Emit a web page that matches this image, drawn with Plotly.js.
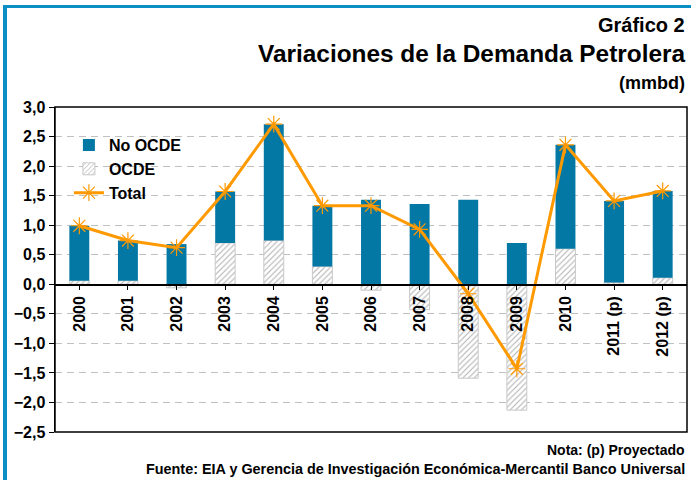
<!DOCTYPE html>
<html><head><meta charset="utf-8">
<script src="https://cdn.plot.ly/plotly-3.0.1.min.js"></script>
<style>
html,body{margin:0;padding:0;background:#fff;overflow:hidden;}
#frame{position:absolute;left:3px;top:5px;width:700px;height:490px;border-top:3px solid #0A8EC4;border-left:4px solid #0A8EC4;}
#chart{position:absolute;left:0;top:0;width:691px;height:480px;}
</style></head><body>
<div id="frame"></div>
<div id="chart"></div>
<script>
const years = ['2000','2001','2002','2003','2004','2005','2006','2007','2008','2009','2010','2011 (p)','2012 (p)'];
const noOcde = [0.93, 0.68, 0.68, 0.87, 1.97, 1.03, 1.43, 1.36, 1.43, 0.70, 1.76, 1.38, 1.47];
const ocde   = [0.06, 0.06, -0.06, 0.70, 0.74, 0.30, -0.10, -0.43, -1.59, -2.13, 0.60, 0.03, 0.11];
const total  = [0.99, 0.74, 0.62, 1.57, 2.71, 1.33, 1.33, 0.93, -0.16, -1.43, 2.36, 1.41, 1.58];

const FONT = 'Liberation Sans, Arial, sans-serif';
const H = 480, T = 107, B = 48, PH = H - T - B;
const py = px => (H - B - px) / PH;

const traces = [
  {type:'bar', name:'OCDE', x:years, y:ocde, width:0.41, legendrank:2,
   marker:{color:'#ffffff', line:{color:'#c8c8c8', width:1},
     pattern:{shape:'/', fgcolor:'#b0b0b0', bgcolor:'#ffffff', size:4, solidity:0.25}},
   hoverinfo:'skip'},
  {type:'bar', name:'No OCDE', x:years, y:noOcde, width:0.41, legendrank:1,
   marker:{color:'#0478A4', line:{width:0}}, hoverinfo:'skip'},
  {type:'scatter', mode:'lines+markers', name:'Total', x:years, y:total, legendrank:3,
   line:{color:'#FF9900', width:3},
   marker:{symbol:'asterisk-open', size:14, color:'#FF9900', line:{color:'#FF9900', width:1.2}},
   hoverinfo:'skip'}
];

const layout = {
  width:691, height:480,
  margin:{l:55, r:4, t:T, b:B},
  paper_bgcolor:'rgba(0,0,0,0)', plot_bgcolor:'#ffffff',
  barmode:'relative',
  separators:',.',
  font:{family:FONT, color:'#000', size:14, weight:'bold'},
  showlegend:true,
  legend:{x:0.022, y:0.935, xanchor:'left', yanchor:'top', bgcolor:'rgba(255,255,255,0)',
    font:{family:FONT, size:16, weight:'bold', color:'#000'}, tracegroupgap:0, itemwidth:30},
  xaxis:{type:'category', range:[-0.5,12.5], anchor:'free', position:2.5/5.5, showline:true, linecolor:'#000', linewidth:1.5,
    ticks:'outside', ticklen:4, tickcolor:'#000', tickangle:-90, showgrid:false, zeroline:false,
    tickfont:{family:FONT, size:16, weight:'bold', color:'#000'}, fixedrange:true},
  yaxis:{range:[-2.5,3], dtick:0.5, tick0:0, tickformat:'.1f', showline:true, linecolor:'#000', linewidth:1.5,
    ticks:'outside', ticklen:5, tickcolor:'#000', showgrid:true, gridcolor:'#c0c0c0', griddash:'7px,5px', gridwidth:1,
    zeroline:false, tickfont:{family:FONT, size:16, weight:'bold', color:'#000'}, fixedrange:true},
  shapes:[{type:'rect', xref:'paper', yref:'paper', x0:0, x1:1, y0:0, y1:1, line:{color:'#000', width:1.5}}],
  annotations:[
    {text:'Gráfico 2', xref:'paper', yref:'paper', x:1, y:py(25), xanchor:'right', yanchor:'middle', showarrow:false,
     font:{family:FONT, size:20, weight:'bold', color:'#000'}},
    {text:'Variaciones de la Demanda Petrolera', xref:'paper', yref:'paper', x:1, y:py(54), xanchor:'right', yanchor:'middle', showarrow:false,
     font:{family:FONT, size:24.4, weight:'bold', color:'#000'}},
    {text:'(mmbd)', xref:'paper', yref:'paper', x:1, y:py(83), xanchor:'right', yanchor:'middle', showarrow:false,
     font:{family:FONT, size:18, weight:'bold', color:'#000'}},
    {text:'Nota: (p) Proyectado', xref:'paper', yref:'paper', x:1, y:py(450), xanchor:'right', yanchor:'middle', showarrow:false,
     font:{family:FONT, size:14, weight:'bold', color:'#000'}},
    {text:'Fuente: EIA y Gerencia de Investigación Económica-Mercantil Banco Universal', xref:'paper', yref:'paper', x:1, y:py(469), xanchor:'right', yanchor:'middle', showarrow:false,
     font:{family:FONT, size:14.4, weight:'bold', color:'#000'}}
  ]
};

Plotly.newPlot('chart', traces, layout, {displayModeBar:false, staticPlot:true});
</script>
</body></html>
